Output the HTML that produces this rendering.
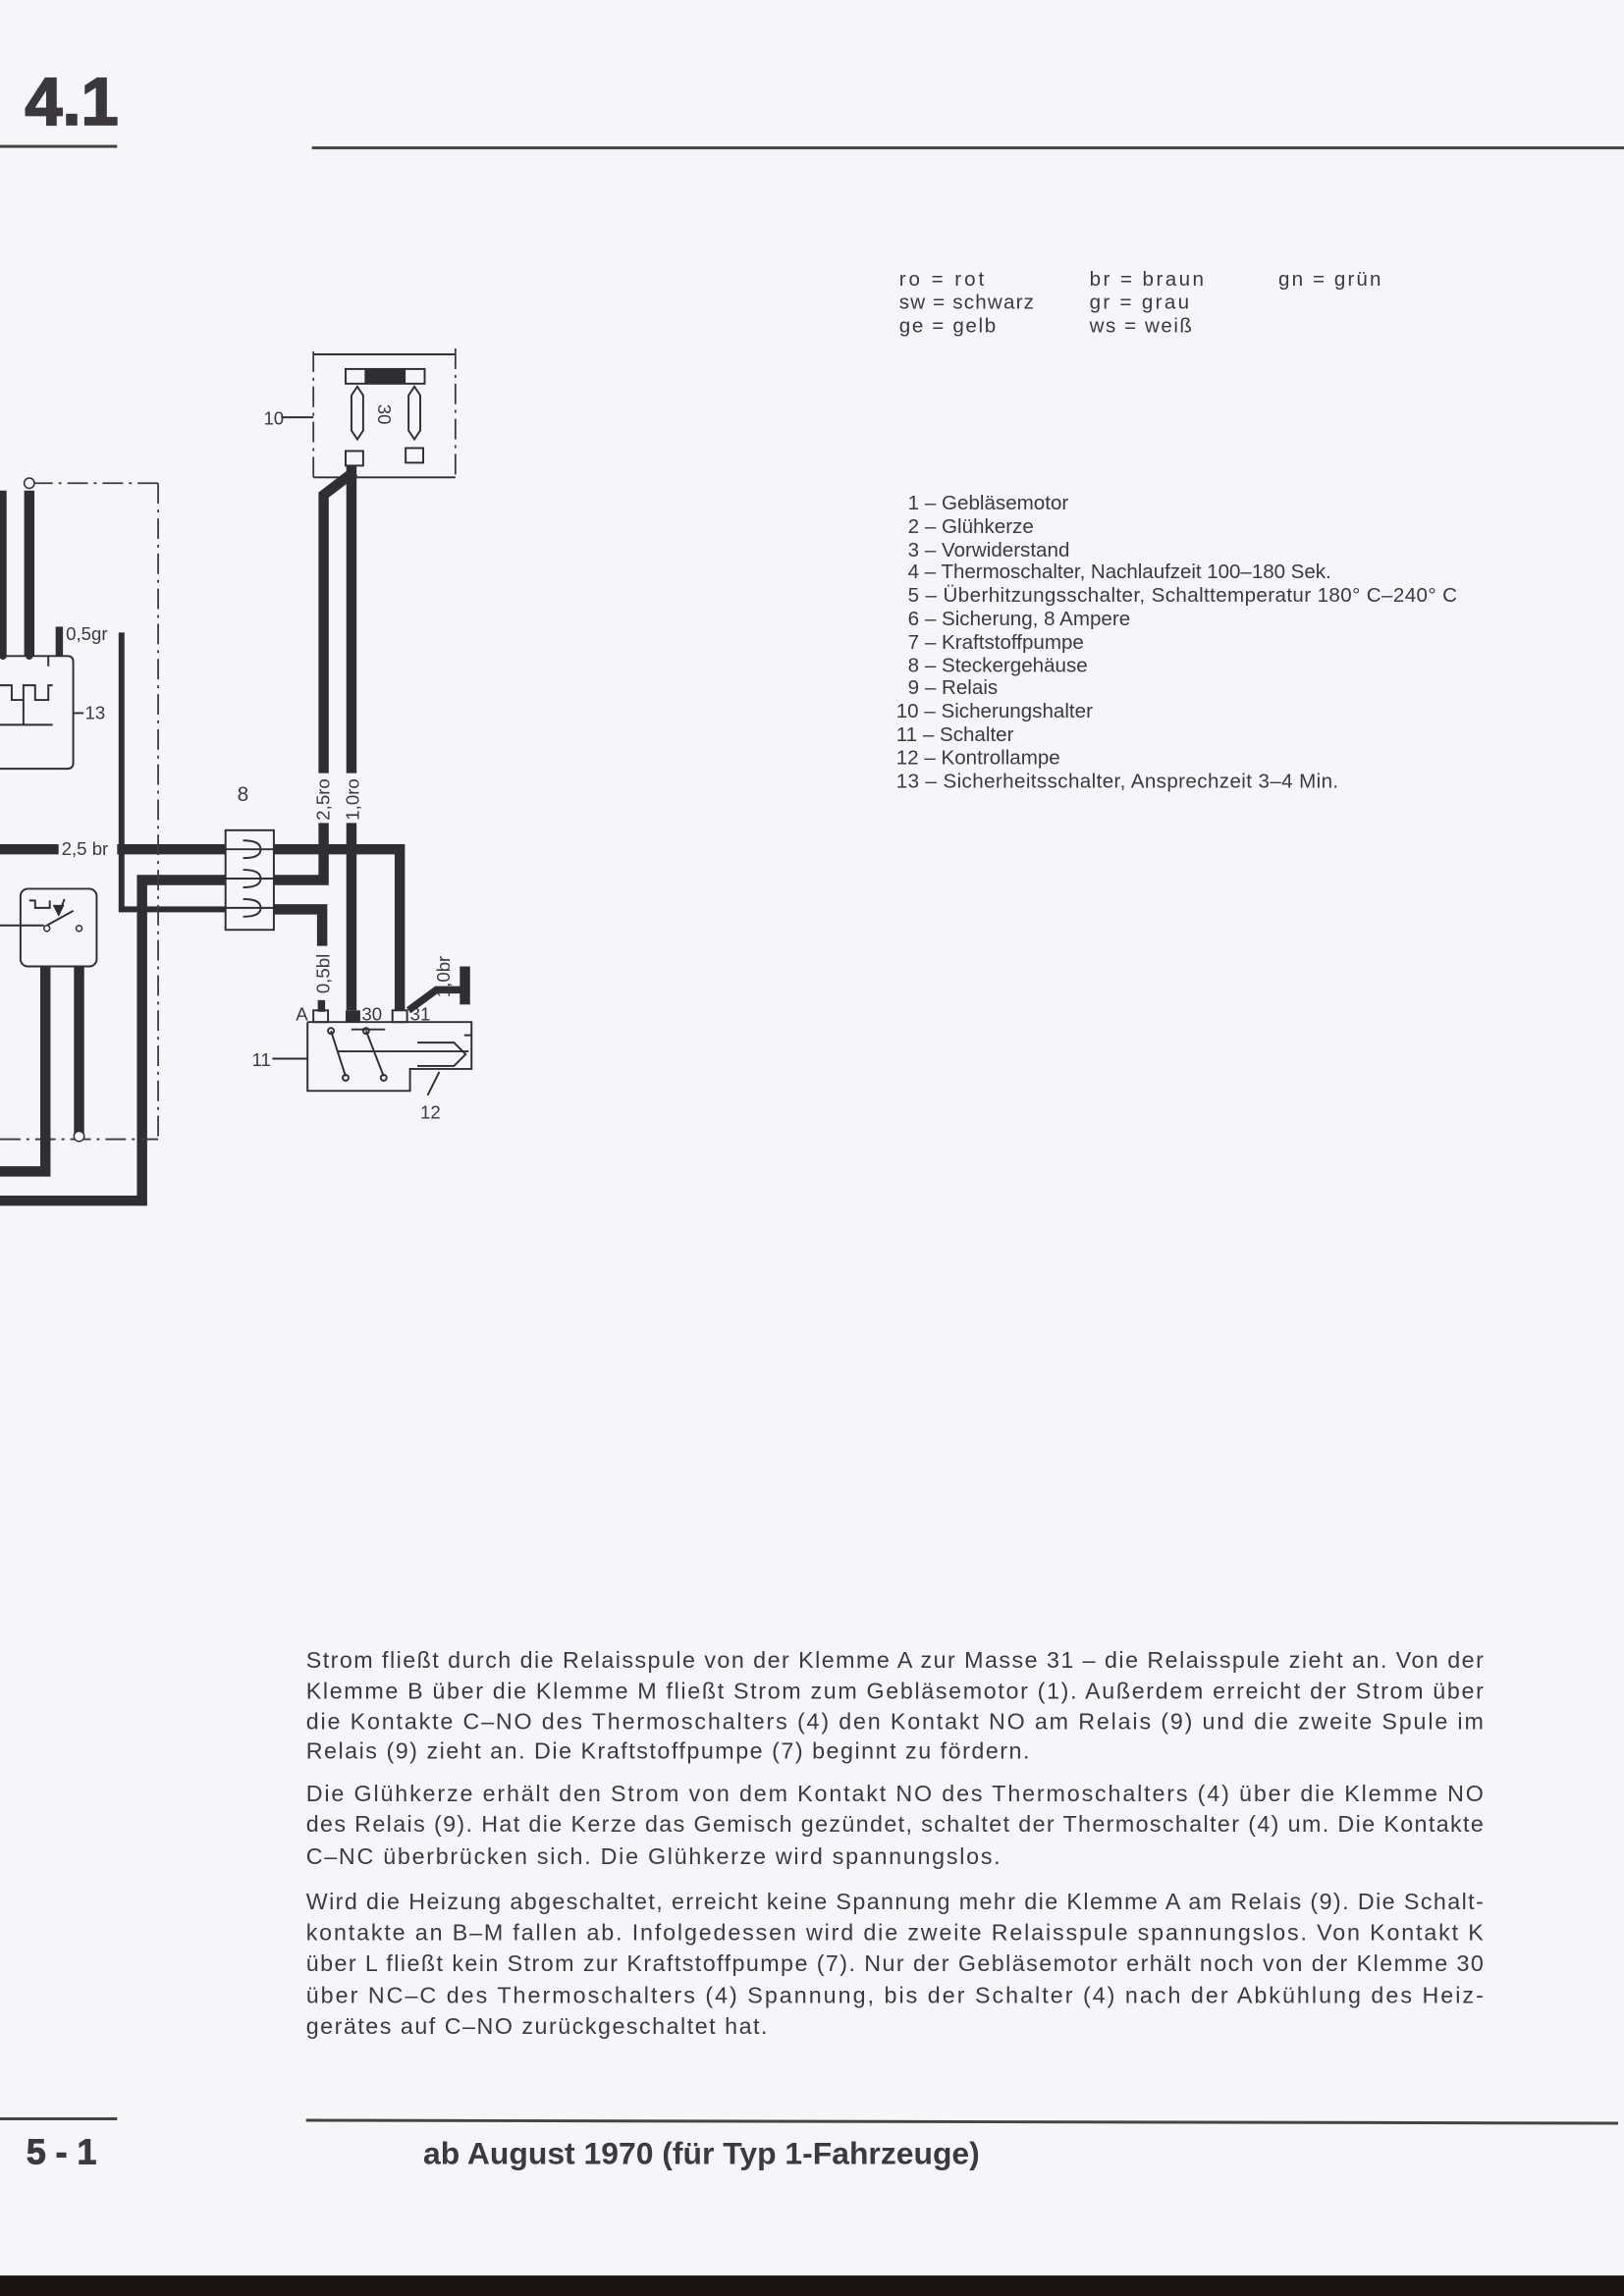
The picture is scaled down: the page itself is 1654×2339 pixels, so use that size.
<!DOCTYPE html>
<html><head><meta charset="utf-8"><style>
html,body{margin:0;padding:0;background:#f6f6f8;}
svg{display:block;}
text{font-family:"Liberation Sans",sans-serif;fill:#3a3a40;}
.w{stroke:#2e2e33;stroke-width:7;fill:none;stroke-linejoin:miter;}
.t{stroke:#2e2e33;stroke-width:1.3;fill:none;}
.dd{stroke:#3a3a40;stroke-width:1.2;fill:none;stroke-dasharray:14 4 2 4;}
.p{font-size:15.6px;}
.l{font-size:13.8px;}
.s{font-size:12.5px;}
</style></head><body>
<svg width="1654" height="2339" viewBox="0 0 1109 1568" preserveAspectRatio="none" xmlns="http://www.w3.org/2000/svg">
<rect x="0" y="0" width="1109" height="1568" fill="#f6f6f8"/>
<rect x="0" y="1554" width="1109" height="14" fill="#1a1414"/>
<text x="17" y="85" style="font-size:46px;font-weight:bold;fill:#3a373d;stroke:#3a373d;stroke-width:1.2">4.1</text>
<line x1="0" y1="100" x2="80" y2="100" stroke="#444" stroke-width="2"/>
<line x1="213" y1="101" x2="1109" y2="101" stroke="#444" stroke-width="2"/>
<g class="l">
<text x="614" y="195" textLength="58" lengthAdjust="spacing">ro = rot</text><text x="614" y="211" textLength="92" lengthAdjust="spacing">sw = schwarz</text><text x="614" y="227" textLength="66" lengthAdjust="spacing">ge = gelb</text>
<text x="744" y="195" textLength="78" lengthAdjust="spacing">br = braun</text><text x="744" y="211" textLength="68" lengthAdjust="spacing">gr = grau</text><text x="744" y="227" textLength="70" lengthAdjust="spacing">ws = weiß</text>
<text x="873" y="195" textLength="70" lengthAdjust="spacing">gn = grün</text>
</g>
<g class="l">
<text x="620" y="348">1 – Gebläsemotor</text>
<text x="620" y="364">2 – Glühkerze</text>
<text x="620" y="380">3 – Vorwiderstand</text>
<text x="620" y="395" textLength="289" lengthAdjust="spacing">4 – Thermoschalter, Nachlaufzeit 100–180 Sek.</text>
<text x="620" y="411" textLength="375" lengthAdjust="spacing">5 – Überhitzungsschalter, Schalttemperatur 180° C–240° C</text>
<text x="620" y="427">6 – Sicherung, 8 Ampere</text>
<text x="620" y="443">7 – Kraftstoffpumpe</text>
<text x="620" y="459">8 – Steckergehäuse</text>
<text x="620" y="474">9 – Relais</text>
<text x="612" y="490">10 – Sicherungshalter</text>
<text x="612" y="506">11 – Schalter</text>
<text x="612" y="522">12 – Kontrollampe</text>
<text x="612" y="538" textLength="302" lengthAdjust="spacing">13 – Sicherheitsschalter, Ansprechzeit 3–4 Min.</text>
</g>
<line x1="214" y1="242" x2="311" y2="242" class="t"/>
<line x1="214" y1="326" x2="311" y2="326" class="t"/>
<line x1="214" y1="240" x2="214" y2="328" class="dd"/>
<line x1="311" y1="238" x2="311" y2="328" class="dd"/>
<line x1="192" y1="285" x2="214" y2="285" class="t"/>
<text x="180" y="290" class="s">10</text>
<rect x="236" y="252" width="54" height="10" fill="none" stroke="#2e2e33" stroke-width="1.3"/>
<rect x="249" y="252" width="28" height="10" fill="#2e2e33"/>
<path d="M240 270 L244 264 L248 270 L248 294 L244 300 L240 294 Z" class="t"/>
<path d="M279 270 L283 264 L287 270 L287 294 L283 300 L279 294 Z" class="t"/>
<rect x="236" y="308" width="12" height="10" class="t"/>
<rect x="277" y="306" width="12" height="10" class="t"/>
<text transform="translate(258,283) rotate(90)" class="s" text-anchor="middle">30</text>
<path class="w" d="M242 322 L221 338 L221 528"/>
<path class="w" d="M240 318 L240 528"/>
<text transform="translate(225,546) rotate(-90)" class="s" text-anchor="middle">2,5ro</text>
<text transform="translate(245,546) rotate(-90)" class="s" text-anchor="middle">1,0ro</text>
<path class="w" d="M221 562 L221 601 L187 601"/>
<path class="w" d="M240 562 L240 690"/>
<path class="w" d="M0 580 L40 580"/>
<text x="42" y="584" class="s">2,5 br</text>
<path class="w" d="M80 580 L154 580"/>
<path class="w" d="M187 580 L273 580 L273 690"/>
<path class="w" d="M0 820 L97 820 L97 601 L154 601"/>
<path d="M83 432 L83 621 L154 621" stroke="#2e2e33" stroke-width="4" fill="none"/>
<text x="45" y="437" class="s">0,5gr</text>
<path class="w" d="M187 621 L220 621 L220 646"/>
<text transform="translate(225,665) rotate(-90)" class="s" text-anchor="middle">0,5bl</text>
<rect x="154" y="567" width="33" height="68" class="t" fill="#f6f6f8"/>
<path class="t" d="M166 574 Q178 574 178 580 Q178 586 166 586 M166 594 Q178 594 178 600 Q178 606 166 606 M166 614 Q178 614 178 620 Q178 626 166 626"/>
<line x1="154" y1="580" x2="187" y2="580" class="t"/><line x1="154" y1="600" x2="187" y2="600" class="t"/><line x1="154" y1="620" x2="187" y2="620" class="t"/>
<text x="162" y="547" class="s" style="font-size:14px">8</text>
<line x1="108" y1="330" x2="108" y2="778" class="dd"/>
<line x1="22" y1="330" x2="108" y2="330" class="dd"/>
<line x1="0" y1="778" x2="108" y2="778" class="dd"/>
<path class="w" d="M1 335 L1 448"/>
<path class="w" d="M20 335 L20 448"/>
<circle cx="20" cy="330" r="3.5" fill="#f6f6f8" stroke="#2e2e33"/>
<rect x="38" y="428" width="5" height="20" fill="#2e2e33"/>
<path class="t" d="M0 448 L46 448 Q50 448 50 452 L50 521 Q50 525 46 525 L0 525"/>
<path class="t" d="M0 468 L8 468 L8 478 L16 478 L16 468 L24 468 L24 478 L33 478 L33 468 L36 468 M33 455 L33 448 M0 495 L36 495 M16 478 L16 495 M50 487 L57 487"/>
<circle cx="2" cy="448" r="2.5" fill="#2e2e33"/><circle cx="20" cy="448" r="2.5" fill="#2e2e33"/>
<text x="58" y="491" class="s">13</text>
<rect x="14" y="607" width="52" height="53" rx="5" class="t"/>
<path class="t" d="M20 615 L24 615 L24 620 L34 620 L34 615 M0 632 L30 632 M32 632 L50 622 M44 614 L40 625"/>
<path d="M36 618 L44 618 L40 626 Z" fill="#2e2e33"/>
<circle cx="32" cy="634" r="2" fill="#f6f6f8" stroke="#2e2e33"/><circle cx="54" cy="634" r="2" fill="#f6f6f8" stroke="#2e2e33"/>
<path class="w" d="M31 660 L31 800 L0 800"/>
<path class="w" d="M54 660 L54 775"/>
<circle cx="54" cy="776" r="3.5" fill="#f6f6f8" stroke="#2e2e33"/>
<path class="t" d="M210 698 L322 698 L322 707 L317 707 M210 698 L210 745 L280 745 L280 730 L322 730 L322 707"/>
<rect x="214" y="690" width="10" height="8" class="t"/>
<rect x="236" y="690" width="10" height="8" fill="#2e2e33"/>
<rect x="268" y="690" width="10" height="8" class="t"/>
<path class="t" d="M226 704 L236 735 M250 704 L262 735 M230 718 L320 718 M240 703 L263 703"/>
<circle cx="226" cy="704" r="2" class="t"/><circle cx="236" cy="736" r="2" class="t"/><circle cx="250" cy="704" r="2" class="t"/><circle cx="262" cy="736" r="2" class="t"/>
<path class="t" d="M285 712 L310 712 L318 720 L310 728 L285 728 M300 732 L292 748"/>
<line x1="186" y1="723" x2="210" y2="723" class="t"/>
<text x="172" y="728" class="s">11</text>
<text x="287" y="764" class="s">12</text>
<text x="202" y="697" class="s">A</text>
<text x="247" y="697" class="s">30</text>
<text x="280" y="697" class="s">31</text>
<rect x="217" y="683" width="5" height="8" fill="#2e2e33"/>
<path class="w" d="M279 690 L298 676 L316 676" style="stroke-width:5"/>
<rect x="314" y="660" width="7" height="26" fill="#2e2e33"/>
<text transform="translate(307,667) rotate(-90)" class="s" text-anchor="middle">1,0br</text>
<g class="p">
<text x="209" y="1139" textLength="804" lengthAdjust="spacing">Strom fließt durch die Relaisspule von der Klemme A zur Masse 31 – die Relaisspule zieht an. Von der</text>
<text x="209" y="1160" textLength="804" lengthAdjust="spacing">Klemme B über die Klemme M fließt Strom zum Gebläsemotor (1). Außerdem erreicht der Strom über</text>
<text x="209" y="1181" textLength="804" lengthAdjust="spacing">die Kontakte C–NO des Thermoschalters (4) den Kontakt NO am Relais (9) und die zweite Spule im</text>
<text x="209" y="1201" textLength="494" lengthAdjust="spacing">Relais (9) zieht an. Die Kraftstoffpumpe (7) beginnt zu fördern.</text>
<text x="209" y="1230" textLength="804" lengthAdjust="spacing">Die Glühkerze erhält den Strom von dem Kontakt NO des Thermoschalters (4) über die Klemme NO</text>
<text x="209" y="1251" textLength="804" lengthAdjust="spacing">des Relais (9). Hat die Kerze das Gemisch gezündet, schaltet der Thermoschalter (4) um. Die Kontakte</text>
<text x="209" y="1273" textLength="474" lengthAdjust="spacing">C–NC überbrücken sich. Die Glühkerze wird spannungslos.</text>
<text x="209" y="1304" textLength="804" lengthAdjust="spacing">Wird die Heizung abgeschaltet, erreicht keine Spannung mehr die Klemme A am Relais (9). Die Schalt-</text>
<text x="209" y="1325" textLength="804" lengthAdjust="spacing">kontakte an B–M fallen ab. Infolgedessen wird die zweite Relaisspule spannungslos. Von Kontakt K</text>
<text x="209" y="1346" textLength="804" lengthAdjust="spacing">über L fließt kein Strom zur Kraftstoffpumpe (7). Nur der Gebläsemotor erhält noch von der Klemme 30</text>
<text x="209" y="1368" textLength="804" lengthAdjust="spacing">über NC–C des Thermoschalters (4) Spannung, bis der Schalter (4) nach der Abkühlung des Heiz-</text>
<text x="209" y="1389" textLength="315" lengthAdjust="spacing">gerätes auf C–NO zurückgeschaltet hat.</text>
</g>
<line x1="0" y1="1447" x2="80" y2="1447" stroke="#444" stroke-width="2"/>
<line x1="209" y1="1448" x2="1105" y2="1450" stroke="#444" stroke-width="2"/>
<text x="18" y="1478" style="font-size:24px;font-weight:bold;stroke:#3a3a40;stroke-width:0.6">5 - 1</text>
<text x="289" y="1478" style="font-size:21px;font-weight:bold" textLength="380" lengthAdjust="spacingAndGlyphs">ab August 1970 (für Typ 1-Fahrzeuge)</text>
</svg>
</body></html>
